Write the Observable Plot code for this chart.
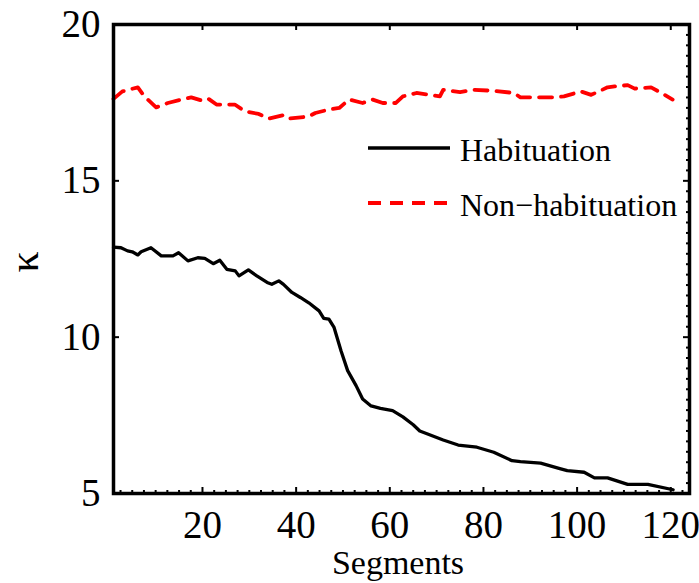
<!DOCTYPE html>
<html>
<head>
<meta charset="utf-8">
<script src="https://cdn.jsdelivr.net/npm/d3@7"></script>
<script src="https://cdn.jsdelivr.net/npm/@observablehq/plot@0.6"></script>
<style>
  html, body { margin: 0; padding: 0; background: white; }
  #chart { width: 699px; height: 583px; }
  #chart svg text { font-family: 'Liberation Serif', 'Times New Roman', serif !important; }
</style>
</head>
<body>
<div id="chart"></div>
<script>
// Habituation series (segment, kappa)
const habSegments = [1, 2.6, 4, 5, 6.2, 6.9, 9, 11.2, 13.7, 14.9, 16.9, 19, 20.5, 22.3, 23.7, 25.2, 27, 27.8, 29.8, 31.6, 33.8, 34.8, 36.3, 37.3, 39.1, 40.9, 42.7, 44.9, 45.9, 47, 48.1, 49.6, 51, 52.8, 54.2, 56, 58, 60.6, 62.8, 65, 66.4, 67.8, 71.4, 74.6, 78.6, 82.2, 86.1, 87.9, 92.2, 96.5, 97.9, 101.5, 103.7, 106.5, 110.8, 115.1, 120.5];
const habKappa    = [12.88, 12.86, 12.76, 12.73, 12.63, 12.73, 12.86, 12.6, 12.6, 12.7, 12.44, 12.54, 12.52, 12.35, 12.46, 12.17, 12.12, 11.96, 12.15, 11.96, 11.75, 11.69, 11.8, 11.69, 11.43, 11.27, 11.1, 10.84, 10.6, 10.58, 10.31, 9.56, 8.93, 8.45, 8.02, 7.8, 7.72, 7.65, 7.45, 7.2, 7.0, 6.92, 6.71, 6.55, 6.48, 6.32, 6.05, 6.02, 5.97, 5.79, 5.73, 5.68, 5.50, 5.50, 5.29, 5.29, 5.12];

// Non-habituation series (segment, kappa)
const nonSegments = [1, 2.9, 6.2, 7.6, 10.1, 12.6, 15.5, 17.6, 19.8, 21.2, 23, 26.9, 29.1, 32, 34.1, 37.3, 38.4, 42.7, 44.1, 47, 49.2, 51.3, 54.2, 56.3, 58.5, 61.3, 62.8, 65.7, 68.5, 70.7, 71.4, 75, 77.8, 82.2, 86.5, 87.9, 90.8, 95.1, 97.2, 100.8, 103, 106.5, 108, 110.8, 112.3, 115.8, 118, 120.4];
const nonKappa    = [17.62, 17.86, 17.99, 17.70, 17.35, 17.49, 17.60, 17.67, 17.57, 17.63, 17.44, 17.44, 17.22, 17.14, 16.99, 17.10, 16.99, 17.06, 17.17, 17.28, 17.33, 17.60, 17.49, 17.60, 17.49, 17.49, 17.70, 17.81, 17.75, 17.70, 17.91, 17.84, 17.91, 17.88, 17.81, 17.67, 17.67, 17.67, 17.70, 17.86, 17.75, 17.99, 18.02, 18.06, 17.95, 17.99, 17.81, 17.60];

const xTicks = [20, 40, 60, 80, 100, 120];
const yTicks = [5, 10, 15, 20];
const seriesNames = ["Habituation", "Non\u2212habituation"];
const xLabel = "Segments";
const yLabel = "\u03ba";

const hab = habSegments.map((s, i) => ({s, v: habKappa[i]}));
const non = nonSegments.map((s, i) => ({s, v: nonKappa[i]}));

const W = 699, H = 583;
const mL = 113, mR = 10, mT = 24, mB = 90;
const plotW = W - mL - mR, plotH = H - mT - mB;
const tickLen = 6, minorLen = 3;

const xMinor = d3.range(2.5, 124, 2.5).filter(v => v % 20 !== 0);
const yMinor = d3.range(5 + 1/3, 20, 1/3).filter(v => Math.abs(v - Math.round(v / 5) * 5) > 1e-6);

const font = "'Liberation Serif', 'Times New Roman', serif";

const chart = Plot.plot({
  width: W, height: H,
  marginLeft: mL, marginRight: mR, marginTop: mT, marginBottom: mB,
  x: {domain: [1, 124]},
  y: {domain: [5, 20]},
  style: {fontFamily: font, background: "white", color: "black", overflow: "visible"},
  marks: [
    Plot.line(non, {x: "s", y: "v", stroke: "#ff0000", strokeWidth: 3.8, strokeDasharray: "13,9", strokeLinejoin: "round"}),
    Plot.line(hab, {x: "s", y: "v", stroke: "black", strokeWidth: 3.3, strokeLinejoin: "round"}),
    // major ticks (inward, all four sides)
    Plot.tickX(xTicks, {x: d => d, stroke: "black", strokeWidth: 2, insetTop: plotH - tickLen}),
    Plot.tickX(xTicks, {x: d => d, stroke: "black", strokeWidth: 2, insetBottom: plotH - tickLen}),
    Plot.tickY(yTicks, {y: d => d, stroke: "black", strokeWidth: 2, insetRight: plotW - tickLen}),
    Plot.tickY(yTicks, {y: d => d, stroke: "black", strokeWidth: 2, insetLeft: plotW - tickLen}),
    // minor ticks on bottom and right
    Plot.tickX(xMinor, {x: d => d, stroke: "black", strokeWidth: 2, insetTop: plotH - minorLen}),
    Plot.tickY(yMinor, {y: d => d, stroke: "black", strokeWidth: 2, insetLeft: plotW - minorLen}),
    Plot.frame({stroke: "black", strokeWidth: 3.5}),
    Plot.axisX({ticks: xTicks, tickSize: 0, tickPadding: 17, fontSize: 39, label: null}),
    Plot.axisY({ticks: yTicks, tickSize: 0, tickPadding: 13, fontSize: 39, label: null})
  ]
});

const svg = d3.select(chart);
// axis labels
svg.append("text")
  .attr("x", mL + plotW / 2 - 3).attr("y", 574)
  .attr("text-anchor", "middle")
  .attr("font-family", font).attr("font-size", 34).attr("fill", "black")
  .text(xLabel);
svg.append("text")
  .attr("transform", "translate(38,262) rotate(-90)")
  .attr("text-anchor", "middle")
  .attr("font-family", font).attr("font-size", 42).attr("fill", "black")
  .text(yLabel);

// legend
const legend = svg.append("g").attr("text-anchor", "start");
const legItems = [
  {name: seriesNames[0], stroke: "black", width: 3.3, dash: null, y: 148},
  {name: seriesNames[1], stroke: "#ff0000", width: 3.8, dash: "13,9", y: 203}
];
legItems.forEach(it => {
  legend.append("line")
    .attr("x1", 368).attr("x2", 450).attr("y1", it.y).attr("y2", it.y)
    .attr("stroke", it.stroke).attr("stroke-width", it.width)
    .attr("stroke-dasharray", it.dash);
  legend.append("text")
    .attr("x", 460).attr("y", it.y + 13)
    .attr("text-anchor", "start")
    .attr("font-family", font).attr("font-size", 32).attr("fill", "black")
    .text(it.name);
});

document.getElementById("chart").appendChild(chart);
</script>
</body>
</html>
